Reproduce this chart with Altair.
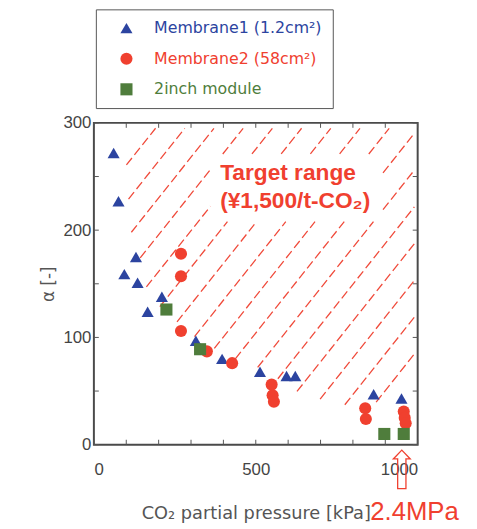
import altair as alt
import pandas as pd
import numpy as np

# ---------------- data ----------------
series_names = ["Membrane1 (1.2cm²)", "Membrane2 (58cm²)", "2inch module"]
series_colors = ["#2c44a0", "#f0402f", "#4f7d3c"]
series_shapes = ["triangle-up", "circle", "square"]

m1_p = [61, 76, 94, 130, 135, 166, 210, 315, 396, 513, 595, 622, 864, 950]
m1_a = [272, 227, 159, 175, 151, 124, 138, 97, 80, 68, 64, 64, 47, 43]

m2_p = [269, 269, 269, 349, 427, 549, 552, 556, 838, 840, 957, 960, 963]
m2_a = [178, 157, 106, 87, 76, 56, 46, 40, 34, 24, 31, 25, 20]

mod_p = [224, 328, 897, 957]
mod_a = [126, 89, 10, 10]

x_tick_values = [0, 100, 200, 300, 400, 500, 600, 700, 800, 900, 1000]
y_tick_values = [0, 50, 100, 150, 200, 250, 300]
x_label_values = [0, 500, 1000]
y_label_values = [0, 100, 200, 300]

# hatched "target range" region boundary (data units)
hatch_bound_p = [125, 990, 990, 884, 768, 692, 604, 543, 457, 390, 329, 274, 219.5,
                 168, 143, 116, 106.7, 100, 100]
hatch_bound_a = [295, 295, 55, 40, 37, 43, 52, 68, 77, 87, 96, 110, 124,
                 139, 174, 197, 230, 262, 270]
hatch_slope = 0.38          # alpha per kPa
hatch_first = 203.7         # kPa where first line meets alpha = 300
hatch_step = 90.2           # kPa between lines
text_gap_p = [360, 893]     # area kept clear around the annotation
text_gap_a = [208, 271]

target_text = ["Target range", "(¥1,500/t-CO₂)"]
target_p = [390, 390]
target_a = [247, 221]

arrow_p = [951]

W, H = 328, 326

# ---------------- build tables ----------------
pts = pd.DataFrame({
    "P": m1_p + m2_p + mod_p,
    "A": m1_a + m2_a + mod_a,
    "series": [series_names[0]] * len(m1_p) + [series_names[1]] * len(m2_p)
              + [series_names[2]] * len(mod_p),
})


def inside(poly_x, poly_y, x, y):
    res = np.zeros_like(x, dtype=bool)
    n = len(poly_x)
    j = n - 1
    for i in range(n):
        xi, yi, xj, yj = poly_x[i], poly_y[i], poly_x[j], poly_y[j]
        cond = ((yi > y) != (yj > y)) & (
            x < (xj - xi) * (y - yi) / ((yj - yi) if yj != yi else 1e-12) + xi)
        res ^= cond
        j = i
    return res


segs = []
grid = np.arange(0, 1000.001, 0.25)
for n in range(-2, 22):
    pt = hatch_first + n * hatch_step
    a = 300 + hatch_slope * (grid - pt)
    m = inside(hatch_bound_p, hatch_bound_a, grid, a)
    m &= ~((grid > text_gap_p[0]) & (grid < text_gap_p[1])
           & (a > text_gap_a[0]) & (a < text_gap_a[1]))
    idx = np.flatnonzero(np.diff(np.concatenate([[0], m.astype(int), [0]])))
    for s, e in zip(idx[::2], idx[1::2]):
        if e - 1 - s > 8:
            segs.append({"P": grid[s], "A": a[s], "P2": grid[e - 1], "A2": a[e - 1]})
hatch = pd.DataFrame(segs)

xs = alt.Scale(domain=[0, 1000], nice=False, zero=False)
ys = alt.Scale(domain=[0, 300], nice=False, zero=False)

x_axis = alt.Axis(
    values=x_label_values, ticks=False, domain=False, grid=False, format="d",
    labelFontSize=17, labelColor="#444", labelPadding=17, labelFont="Liberation Sans",
    title="CO₂ partial pressure [kPa]", titleFontSize=18, titleFont="DejaVu Sans",
    titleFontWeight="normal", titleColor="#555", titlePadding=28)
y_axis = alt.Axis(
    values=y_label_values, ticks=False, domain=False, grid=False, format="d",
    labelFontSize=17, labelColor="#444", labelPadding=3, labelFont="Liberation Sans",
    title="α [-]", titleFontSize=17, titleFont="DejaVu Sans",
    titleFontWeight="normal", titleColor="#555", titlePadding=6)


def X(f="P:Q"):
    return alt.X(f, scale=xs, axis=x_axis)


def Y(f="A:Q"):
    return alt.Y(f, scale=ys, axis=y_axis)


hatch_layer = alt.Chart(hatch).mark_rule(
    color="#f04a3a", strokeWidth=1.3, strokeDash=[9, 4]
).encode(x=X(), y=Y(), x2="P2:Q", y2="A2:Q")

xt = pd.DataFrame({"P": x_tick_values})
yt = pd.DataFrame({"A": y_tick_values})
tick_style = dict(color="#555", strokeWidth=1)
bottom_ticks = alt.Chart(xt).mark_rule(**tick_style).encode(
    x=X(), y=alt.value(H), y2=alt.value(H - 5))
top_ticks = alt.Chart(xt).mark_rule(**tick_style).encode(
    x=X(), y=alt.value(0), y2=alt.value(5))
left_ticks = alt.Chart(yt).mark_rule(**tick_style).encode(
    y=Y(), x=alt.value(0), x2=alt.value(5))
right_ticks = alt.Chart(yt).mark_rule(**tick_style).encode(
    y=Y(), x=alt.value(W), x2=alt.value(W - 5))

label_color_expr = (
    f"datum.value == '{series_names[0]}' ? '{series_colors[0]}' : "
    f"datum.value == '{series_names[1]}' ? '{series_colors[1]}' : '{series_colors[2]}'"
)

legend = alt.Legend(
    title=None, orient="none", legendX=2, legendY=-115,
    fillColor="white", strokeColor="#555", padding=11,
    symbolOffset=12, labelOffset=20, rowPadding=15,
    labelFontSize=16, labelFont="DejaVu Sans", labelColor={"expr": label_color_expr},
    symbolSize=150, symbolStrokeWidth=0, labelLimit=300,
)

points = alt.Chart(pts).mark_point(filled=True, size=150, opacity=1).encode(
    x=X(), y=Y(),
    color=alt.Color("series:N", scale=alt.Scale(domain=series_names, range=series_colors),
                    legend=legend, sort=series_names),
    shape=alt.Shape("series:N", scale=alt.Scale(domain=series_names, range=series_shapes),
                    legend=legend, sort=series_names),
)

tt = pd.DataFrame({"P": target_p, "A": target_a, "t": target_text})
target = alt.Chart(tt).mark_text(
    align="left", baseline="alphabetic", fontSize=23, fontWeight="bold",
    font="Liberation Sans", color="#f0402f"
).encode(x=X(), y=Y(), text="t:N")

arrow_path = "M0,-1 L0.44,-0.54 L0.215,-0.54 L0.215,1 L-0.215,1 L-0.215,-0.54 L-0.44,-0.54 Z"
arrow = alt.Chart(pd.DataFrame({"P": arrow_p})).mark_point(
    shape=arrow_path, size=1521, filled=False, color="#f0402f", strokeWidth=1.3, opacity=1
).encode(x=X(), y=alt.value(351))

mpa = alt.Chart(pd.DataFrame({"t": ["2.4MPa"]})).mark_text(
    align="left", baseline="alphabetic", fontSize=26, font="Liberation Sans", color="#f0402f"
).encode(x=alt.value(280), y=alt.value(402), text="t:N")

chart = alt.layer(
    hatch_layer, bottom_ticks, top_ticks, left_ticks, right_ticks, points, target, arrow, mpa
).properties(
    width=W, height=H,
    autosize=alt.AutoSizeParams(type="none"),
    padding={"left": 87, "top": 113, "right": 52, "bottom": 80},
    background="white",
).configure_view(stroke="#4a4a4a", strokeWidth=2)

chart.save("out.html", embed_options={"renderer": "svg", "actions": False})
